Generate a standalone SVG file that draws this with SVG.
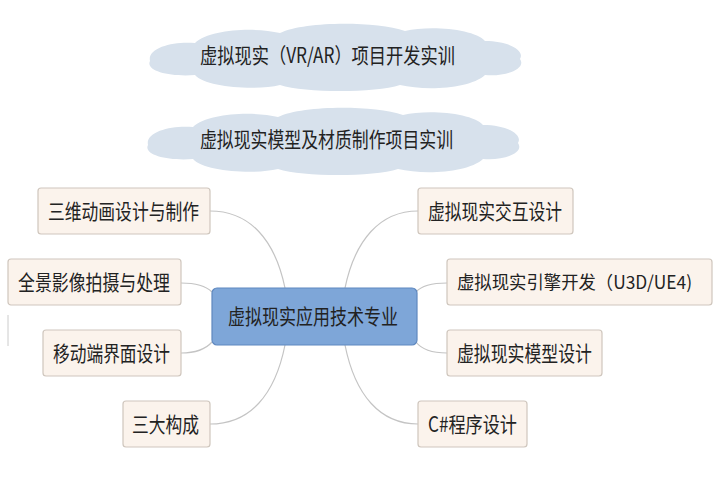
<svg xmlns="http://www.w3.org/2000/svg" width="720" height="478" viewBox="0 0 720 478">
<style>
.node rect{fill:#fbf3ec;stroke:#cfc6bd;stroke-width:1.2}
.center rect{fill:#7ea6d8;stroke:#5f88bf;stroke-width:1.2}
text{font-family:"Noto Sans CJK SC","Noto Sans",sans-serif;font-size:21px;fill:#222}
text.small{font-size:18px}
.cloud{fill:#d7e1ec}
#connectors path{fill:none;stroke:#c4c4c4;stroke-width:1.2}
</style>
<defs>
<path id="cloudShape" d="M-185,4 C-188,-10 -160,-16 -140,-14 C-125,-28 -80,-30 -55,-24 C-30,-36 40,-36 70,-26 C95,-32 140,-28 150,-16 C175,-16 190,-6 185,2 C192,12 170,20 150,18 C135,32 90,34 65,28 C40,36 -30,36 -55,28 C-80,34 -130,30 -140,18 C-165,20 -190,14 -185,4 Z"/>
</defs>
<rect width="720" height="478" fill="#ffffff"/>
<g id="cloud1">
<use href="#cloudShape" class="cloud" transform="translate(335,57)"/>
<text x="200" y="63" textLength="255" lengthAdjust="spacingAndGlyphs">虚拟现实（VR/AR）项目开发实训</text>
</g>
<g id="cloud2">
<use href="#cloudShape" class="cloud" transform="translate(333,141)"/>
<text x="200" y="147" textLength="253" lengthAdjust="spacingAndGlyphs">虚拟现实模型及材质制作项目实训</text>
</g>
<g id="connectors">
<path d="M210,211 C250,211 275,240 285,288"/>
<path d="M181,283 C195,283 205,285 212,292"/>
<path d="M181,353 C195,353 205,350 212,342"/>
<path d="M210,424 C250,424 275,395 285,345"/>
<path d="M418,211 C380,211 355,240 345,288"/>
<path d="M447,283 C432,283 422,285 416,292"/>
<path d="M447,353 C432,353 422,350 416,342"/>
<path d="M418,424 C380,424 355,395 345,345"/>
</g>
<line x1="8" y1="315" x2="8" y2="346" stroke="#cccccc" stroke-width="1"/>
<g id="center" class="center">
<rect x="212" y="288" width="205" height="57" rx="5"/>
<text x="228" y="324" textLength="170" lengthAdjust="spacingAndGlyphs">虚拟现实应用技术专业</text>
</g>
<g id="l1" class="node">
<rect x="38" y="188" width="172" height="46" rx="3"/>
<text x="48" y="219" textLength="151" lengthAdjust="spacingAndGlyphs">三维动画设计与制作</text>
</g>
<g id="l2" class="node">
<rect x="8" y="259" width="173" height="46" rx="3"/>
<text x="18" y="290" textLength="152" lengthAdjust="spacingAndGlyphs">全景影像拍摄与处理</text>
</g>
<g id="l3" class="node">
<rect x="43" y="330" width="138" height="46" rx="3"/>
<text x="53" y="361" textLength="117" lengthAdjust="spacingAndGlyphs">移动端界面设计</text>
</g>
<g id="l4" class="node">
<rect x="123" y="401" width="87" height="46" rx="3"/>
<text x="132" y="432" textLength="67" lengthAdjust="spacingAndGlyphs">三大构成</text>
</g>
<g id="r1" class="node">
<rect x="418" y="188" width="155" height="46" rx="3"/>
<text x="428" y="219" textLength="134" lengthAdjust="spacingAndGlyphs">虚拟现实交互设计</text>
</g>
<g id="r2" class="node">
<rect x="447" y="259" width="265" height="46" rx="3"/>
<text class="small" x="457" y="289" textLength="235" lengthAdjust="spacingAndGlyphs">虚拟现实引擎开发（U3D/UE4)</text>
</g>
<g id="r3" class="node">
<rect x="447" y="330" width="155" height="46" rx="3"/>
<text x="457" y="361" textLength="135" lengthAdjust="spacingAndGlyphs">虚拟现实模型设计</text>
</g>
<g id="r4" class="node">
<rect x="418" y="401" width="109" height="46" rx="3"/>
<text x="428" y="432" textLength="89" lengthAdjust="spacingAndGlyphs">C#程序设计</text>
</g>
</svg>
